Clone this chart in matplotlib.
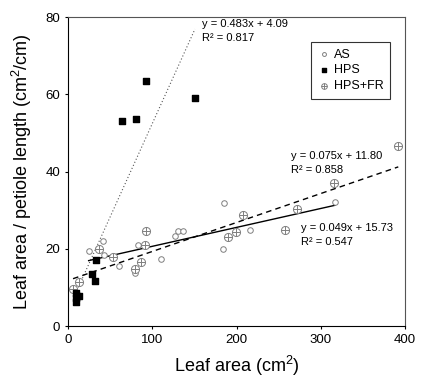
import numpy as np
import matplotlib
matplotlib.use('Agg')
import matplotlib.pyplot as plt

plt.rcParams['font.family'] = ['Liberation Sans', 'DejaVu Sans']
plt.rcParams['mathtext.fontset'] = 'custom'
plt.rcParams['mathtext.rm'] = 'Liberation Sans'
plt.rcParams['mathtext.it'] = 'Liberation Sans:italic'

# AS (open circles)
as_x = [24.5, 41, 42.7, 61, 80, 83.5, 91, 110.6, 126.5, 131, 136, 185.5, 184, 216.5, 317]
as_y = [19.3, 22.0, 18.4, 15.5, 13.6, 21.1, 21.1, 17.3, 23.3, 24.5, 24.5, 31.9, 19.9, 24.9, 32.0]

# HPS (filled squares)
hps_x = [9, 10, 13.5, 9, 11, 28.5, 31.7, 33, 64.5, 80.7, 92.6, 150.7]
hps_y = [8.5, 7.2, 7.7, 6.3, 7.9, 13.5, 11.6, 17.0, 53.0, 53.5, 63.5, 59.1]

# HPS+FR (circle with cross)
fr_x = [6, 12.7, 37.2, 53, 79.1, 86.3, 92.2, 91, 189.5, 199, 208, 257.6, 271.4, 316, 392]
fr_y = [9.5, 11.5, 20.0, 17.9, 14.7, 16.7, 24.6, 21.1, 23.0, 24.3, 28.7, 24.9, 30.4, 37.0, 46.7]

# linear fits: slope, intercept, r2
fit_hps = (0.483, 4.09, 0.817)
fit_fr = (0.075, 11.80, 0.858)
fit_as = (0.049, 15.73, 0.547)

fig = plt.figure(figsize=(4.37, 3.79), dpi=100)
ax = fig.add_axes([0.1556, 0.1398, 0.7712, 0.8153])

grey = '#7f7f7f'
h_as = ax.scatter(as_x, as_y, s=16, facecolors='white', edgecolors=grey, linewidths=0.7,
                  marker='o', zorder=3)
h_hps = ax.scatter(hps_x, hps_y, s=22, color='black', marker='s', zorder=4)
h_fr1 = ax.scatter(fr_x, fr_y, s=34, facecolors='white', edgecolors=grey, linewidths=0.7,
                   marker='o', zorder=3)
h_fr2 = ax.scatter(fr_x, fr_y, s=40, color=grey, linewidths=0.7, marker='+', zorder=3)

def fit_line(xs, fit, **kw):
    xx = np.array([min(xs), max(xs)])
    ax.plot(xx, fit[0] * xx + fit[1], **kw)

fit_line(hps_x, fit_hps, color='#555555', linestyle=(0, (1, 2)), linewidth=0.8)
fit_line(fr_x, fit_fr, color='black', linestyle=(0, (4, 3)), linewidth=1.0)
fit_line(as_x, fit_as, color='black', linestyle='-', linewidth=1.0)

fs = 8
ax.text(159, 79.5, 'y = %.3fx + %.2f' % fit_hps[:2], fontsize=fs, va='top')
ax.text(159, 75.9, 'R\u00b2 = %.3f' % fit_hps[2], fontsize=fs, va='top')
ax.text(265, 45.4, 'y = %.3fx + %.2f' % fit_fr[:2], fontsize=fs, va='top')
ax.text(265, 41.8, 'R\u00b2 = %.3f' % fit_fr[2], fontsize=fs, va='top')
ax.text(276, 26.6, 'y = %.3fx + %.2f' % fit_as[:2], fontsize=fs, va='top')
ax.text(276, 23.1, 'R\u00b2 = %.3f' % fit_as[2], fontsize=fs, va='top')

leg = ax.legend([h_as, h_hps, (h_fr1, h_fr2)], ['AS', 'HPS', 'HPS+FR'],
                loc='upper right', bbox_to_anchor=(0.975, 0.94), fontsize=9,
                frameon=True, fancybox=False, edgecolor='black', handletextpad=0.3,
                handlelength=1.0, borderpad=0.55, labelspacing=0.3, scatterpoints=1,
                markerscale=0.7)
leg.get_frame().set_linewidth(0.8)

ax.set_xlim(0, 400)
ax.set_ylim(0, 80)
ax.set_xticks([0, 100, 200, 300, 400])
ax.set_yticks([0, 20, 40, 60, 80])
ax.tick_params(direction='out', length=2, width=0.8, labelsize=9.5)
for sp in ax.spines.values():
    sp.set_linewidth(0.8)
for sp in ['top', 'right']:
    ax.spines[sp].set_color('#555555')

ax.set_xlabel('Leaf area (cm$^2$)', fontsize=13, labelpad=6)
ax.set_ylabel('Leaf area / petiole length (cm$^2$/cm)', fontsize=13, labelpad=8)

fig.savefig('out.png', dpi=100)
